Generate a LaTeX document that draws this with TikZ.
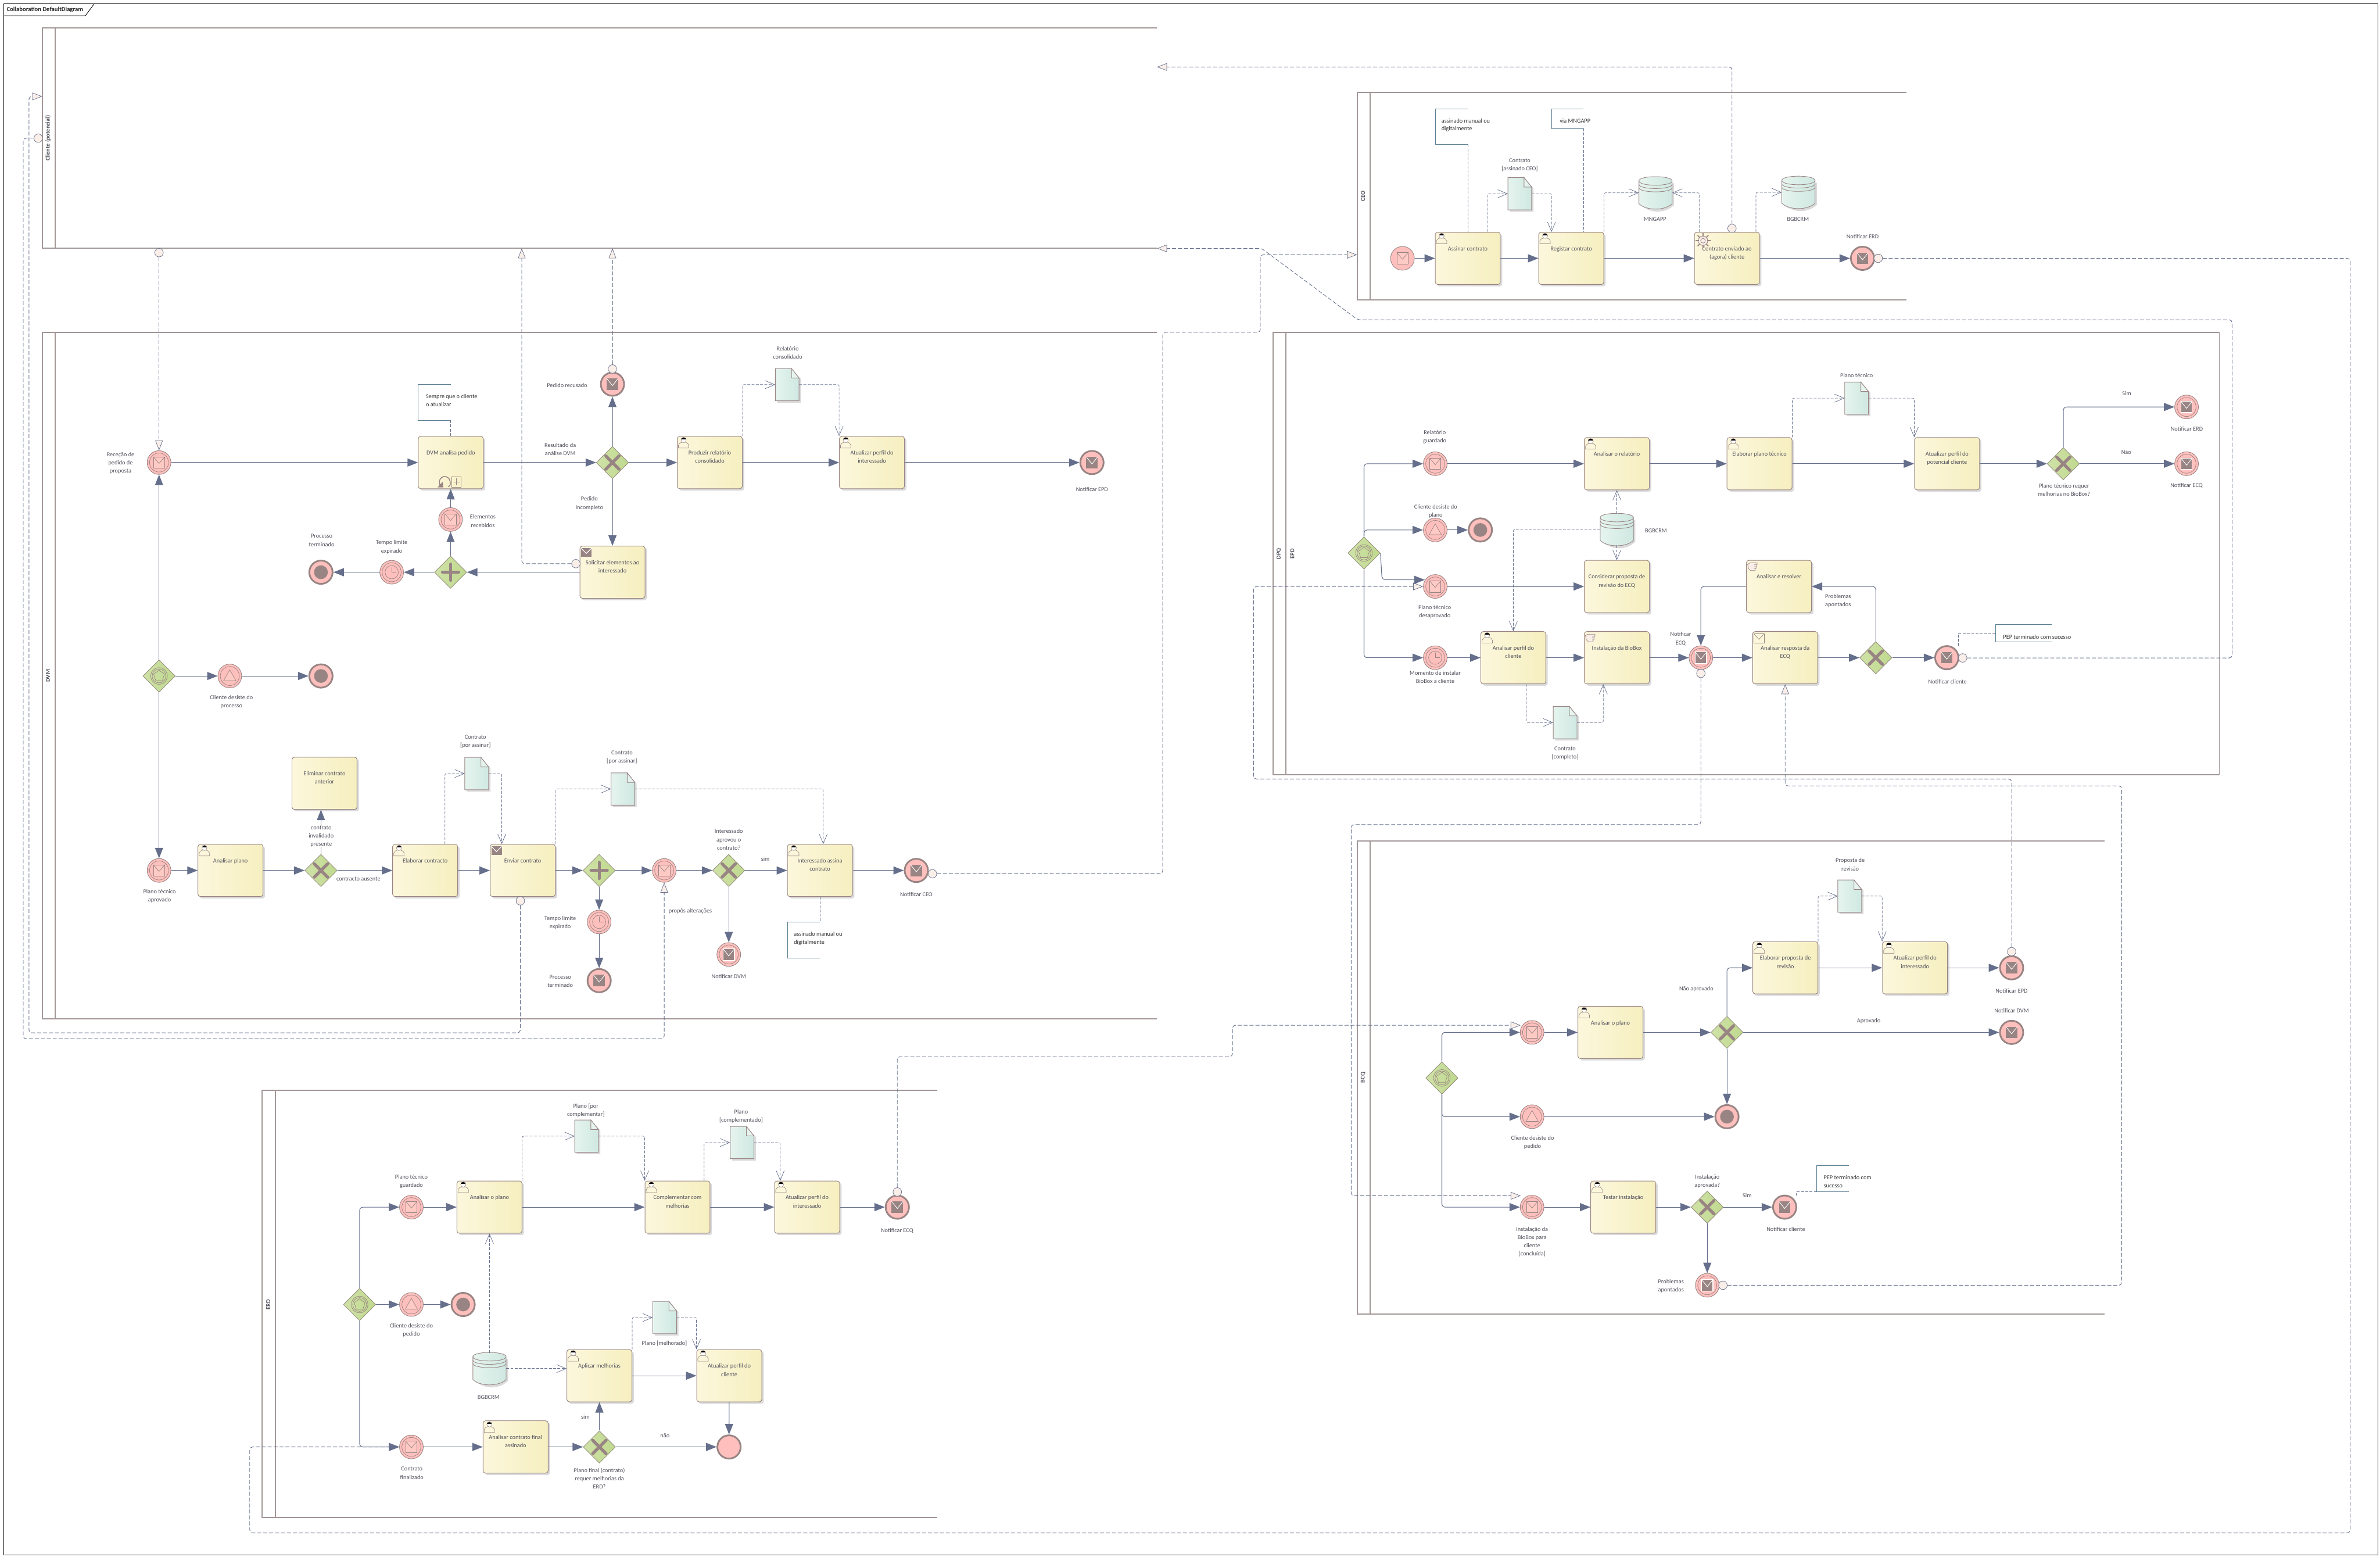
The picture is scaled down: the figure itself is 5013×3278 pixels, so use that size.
\documentclass[tikz,border=0pt]{standalone}
\usepackage{fontspec}
\setmainfont{Carlito}
\usetikzlibrary{arrows.meta,shapes.geometric,shadows}
\definecolor{flow}{HTML}{656F8C}
\definecolor{poolc}{HTML}{A29696}
\definecolor{txtc}{HTML}{50505C}
\definecolor{brn}{HTML}{998484}
\definecolor{evf}{HTML}{FFC0BD}
\definecolor{evin}{HTML}{FFCAC4}
\definecolor{tka}{HTML}{FCF7DC}
\definecolor{tkb}{HTML}{F6EFC0}
\definecolor{dca}{HTML}{E6F4EF}
\definecolor{dcb}{HTML}{CFE8E1}
\definecolor{gwa}{HTML}{D0E2A8}
\definecolor{gwb}{HTML}{BFD98E}
\definecolor{gwl}{HTML}{958F7C}
\definecolor{shd}{HTML}{DADADA}
\definecolor{msgf}{HTML}{FAEEE8}
\definecolor{notec}{HTML}{5A7F92}
\newcommand\txtfont{\fontsize{12.6}{17.5}\selectfont}
\tikzset{
 poolln/.style={draw=poolc,line width=2.4pt},
 lbltxt/.style={font=\txtfont,text=txtc,align=center,inner sep=0pt},
 notetxt/.style={font=\txtfont,text=black!80,align=left,inner sep=0pt,anchor=west},
 pooltxt/.style={font=\txtfont\bfseries,text=txtc,rotate=90,inner sep=0pt},
 tkbox/.style={rectangle,rounded corners=5pt,draw=brn,line width=1.2pt,minimum width=137pt,minimum height=110pt,inner sep=0pt,
   left color=tka,middle color=tka,right color=tkb,font=\txtfont,text=txtc,general shadow={fill=shd,shadow xshift=4pt,shadow yshift=-4pt}},
 evstart/.style={circle,minimum size=50pt,inner sep=0pt,fill=evf,draw=brn,line width=1.1pt},
 evinter/.style={circle,minimum size=50pt,inner sep=0pt,fill=evf,draw=brn,line width=1.1pt},
 evend/.style={circle,minimum size=49pt,inner sep=0pt,fill=evf,draw=brn,line width=3.6pt},
 gwbox/.style={diamond,aspect=1,minimum size=68pt,inner sep=0pt,left color=gwa,right color=gwb,draw=gwl,line width=1.1pt},
 seq/.style={draw=flow,line width=1.3pt,rounded corners=7pt,-{Triangle[length=22pt,width=17pt,fill=flow]}},
 msg/.style={draw=flow,line width=1.1pt,rounded corners=6pt,dash pattern=on 8.5pt off 4pt,-{Triangle[length=21pt,width=16pt,fill=msgf,line width=.9pt]}},
 data/.style={draw=flow,line width=.9pt,rounded corners=3pt,dash pattern=on 6pt off 3pt,-{Straight Barb[length=20pt,width=17pt,line width=.9pt]}},
 assoc/.style={draw=flow,line width=.9pt,dash pattern=on 6pt off 3pt},
 notel/.style={draw=notec,line width=1.1pt},
 msgc/.style={circle,minimum size=18pt,inner sep=0pt,fill=msgf,draw=flow,line width=.9pt},
 anch/.style={rectangle,inner sep=0pt,draw=none},
 noicon/.pic={},
 ring/.pic={\draw[brn,line width=.9pt] (0,0) circle (20);},
 envO/.pic={\draw[brn,line width=.9pt,fill=evin] (-12,-12) rectangle (12,12); \draw[brn,line width=.9pt] (-12,-12) -- (0,2) -- (12,-12);},
 envF/.pic={\fill[brn] (-12,-12) rectangle (12,12); \draw[white,line width=1.1pt] (-12,-12) -- (0,3) -- (12,-12);},
 envT/.pic={\draw[white,line width=1.4pt,fill=brn] (-12,-12) rectangle (12,12); \draw[white,line width=1.1pt] (-12,-12) -- (0,3) -- (12,-12);},
 trig/.pic={\draw[brn,line width=.9pt,fill=evin] (0,-13) -- (13,10) -- (-13,10) -- cycle;},
 timer/.pic={\draw[brn,line width=.9pt] (0,0) circle (14); \draw[brn,line width=.9pt] (0,-11) -- (0,0) -- (10,0);},
 blob/.pic={\fill[brn] (0,0) circle (14.5);},
 gwx/.pic={\draw[brn,line width=6.5pt,line cap=round] (-14,-14) -- (14,14) (-14,14) -- (14,-14);},
 gwp/.pic={\draw[brn,line width=6.5pt,line cap=round] (-17,0) -- (17,0) (0,-17) -- (0,17);},
 gwe/.pic={\draw[brn,line width=.9pt] (0,0) circle (17.5) (0,0) circle (14.5);
   \draw[brn,line width=.9pt] (0,-12) -- (11.4,-3.7) -- (7,9.7) -- (-7,9.7) -- (-11.4,-3.7) -- cycle;},
 user/.pic={\draw[brn,line width=.8pt,fill=tka] (-11,11) -- (-11,5) .. controls (-10,1) and (-7,0) .. (-4,-1) -- (4,-1) .. controls (7,0) and (10,1) .. (11,5) -- (11,11) -- cycle;
   \draw[brn,line width=.7pt,fill=white] (0,-6) circle (5.5); \fill[black] (-5,-7) .. controls (-5,-12) and (5,-12) .. (5,-7) -- cycle;},
 mailt/.pic={\fill[brn] (-11,-9) rectangle (11,9); \draw[white,line width=1.3pt] (-11,-9) -- (0,2) -- (11,-9);},
 mailo/.pic={\draw[brn,line width=.9pt] (-11,-9) rectangle (11,11); \draw[brn,line width=.9pt] (-11,-9) -- (0,3) -- (11,-9);},
 hand/.pic={\draw[brn,line width=.9pt,fill=msgf] (-11,-5) -- (-6,-8) -- (9,-8) -- (9,-4) -- (3,-4) -- (8,-4) -- (8,0) -- (3,0) -- (7,0) -- (7,4) -- (3,4) -- (5,4) -- (5,8) -- (-5,8) -- (-9,4) -- cycle;},
 gear/.pic={\draw[brn,line width=1pt,fill=msgf] (0,0) circle (10); \draw[brn,line width=1pt] (0,0) circle (5);
   \foreach \a in {0,45,...,315}{\draw[brn,line width=2.2pt] (\a:9) -- (\a:16);}},
 subm/.pic={\draw[brn,line width=1pt] (2,-11) rectangle (22,11) (12,-7) -- (12,7) (6,0) -- (18,0);
   \draw[brn,line width=1.8pt] (-22,9) .. controls (-32,-14) and (0,-20) .. (-1,5) .. controls (-2,9) .. (-6,10);
   \fill[brn] (-28,12) -- (-16,12) -- (-17,0) -- cycle;},
}
\newcounter{lbc}
\newcommand\lbl[3]{\stepcounter{lbc}\node[lbltxt] (lb\arabic{lbc}) at (#1,#2) {#3};}
\newcommand\ntx[3]{\stepcounter{lbc}\node[notetxt] (lb\arabic{lbc}) at (#1,#2) {#3};}
\newcommand\tk[5]{\node[tkbox] (#1) at (#2,#3) {\parbox[c][104pt][t]{135pt}{\centering\vspace*{27pt}#5}};
  \path (#1.north west) ++(14,14) pic {#4};}
\newcommand\evt[5]{\node[#4] (#1) at (#2,#3) {}; \pic at (#1) {#5};}
\newcommand\evi[4]{\node[evinter] (#1) at (#2,#3) {}; \pic at (#1) {ring}; \pic at (#1) {#4};}
\newcommand\gw[4]{\node[gwbox] (#1) at (#2,#3) {}; \pic at (#1) {#4};}
\newcommand\dc[3]{\node[anch,minimum width=50pt,minimum height=68pt] (#1) at (#2,#3) {};
  \begin{scope}[shift={(#2,#3)}]
  \fill[shd] (-21,-30) -- (11,-30) -- (29,-12) -- (29,38) -- (-21,38) -- cycle;
  \draw[brn,line width=1.1pt,left color=dca,right color=dcb] (-25,-34) -- (9,-34) -- (25,-14) -- (25,34) -- (-25,34) -- cycle;
  \draw[brn,line width=1.1pt,fill=dca] (9,-34) -- (9,-14) -- (25,-14) -- cycle;
  \end{scope}}
\newcommand\stor[3]{\node[anch,minimum width=70pt,minimum height=66pt] (#1) at (#2,#3) {};
  \begin{scope}[shift={(#2,#3)}]
  \fill[shd] (-31,-20) -- (39,-20) -- (39,26) .. controls (20,44) and (-10,44) .. (-31,26) -- cycle;
  \draw[brn,line width=1.1pt,left color=dca,right color=dcb] (-35,-25) .. controls (-35,-37) and (35,-37) .. (35,-25) -- (35,23) .. controls (20,38) and (-20,38) .. (-35,23) -- cycle;
  \draw[brn,line width=1.1pt] (-35,-25) .. controls (-35,-13) and (35,-13) .. (35,-25);
  \draw[brn,line width=1.1pt] (-35,-18) .. controls (-35,-6) and (35,-6) .. (35,-18);
  \draw[brn,line width=1.1pt] (-35,-11) .. controls (-35,1) and (35,1) .. (35,-11);
  \end{scope}}
\newcommand\pool[5]{\draw[poolln] (#5,#3) -- (#1,#3) -- (#1,#4) -- (#5,#4); \draw[poolln] (#2,#3) -- (#2,#4);}
\newcommand\notebr[5]{\coordinate (#1) at (#3,#5); \draw[notel] (#3,#4) -- (#2,#4) -- (#2,#5) -- (#3,#5);}
\begin{document}
\begin{tikzpicture}[x=1pt,y=-1pt]
\useasboundingbox (0,0) rectangle (5013,3278);
\fill[white] (0,0) rectangle (5013,3278);
% frame
\draw[black,line width=1.3pt] (8,8.5) rectangle (5009,3274);
\draw[black,line width=1.1pt] (8,33) -- (180,33) -- (198,8.5);
\stepcounter{lbc}\node[font=\fontsize{13}{15}\selectfont\bfseries,text=black!85,anchor=west,inner sep=0pt] (title) at (14,20) {Collaboration DefaultDiagram};
% pools
\pool{89}{116}{59}{523}{2437}
\pool{89}{116}{700}{2146}{2437}
\pool{2858.5}{2886}{195}{632}{4016}
\pool{2681}{2708.5}{700}{1631}{4675}
\draw[draw=poolc,line width=1.2pt] (4675,700) -- (4675,1631);
\pool{2858.5}{2886}{1771}{2767}{4433}
\pool{552.5}{580}{2296.5}{3196}{1974}
\node[pooltxt] (pCli) at (101,291) {Cliente (potencial)};
\node[pooltxt] (pDvm) at (101,1423) {DVM};
\node[pooltxt] (pCeo) at (2871,413) {CEO};
\node[pooltxt] (pDpq) at (2694,1166) {DPQ};
\node[pooltxt] (pEpd) at (2722,1166) {EPD};
\node[pooltxt] (pBcq) at (2871,2269) {BCQ};
\node[pooltxt] (pErd) at (565,2747) {ERD};
% --- DVM
\evi{eRec}{335}{974}{envO}
\tk{tDvm}{949.5}{974}{noicon}{DVM analisa  pedido}
\pic at (949.5,1014.5) {subm};
\gw{gX1}{1290}{974}{gwx}
\evt{eRecus}{1290}{809}{evend}{envF}
\tk{tProd}{1495}{974}{user}{Produzir relatório\\consolidado}
\tk{tAtI}{1836.5}{974}{user}{Atualizar perfil do\\interessado}
\evt{eNEpd}{2300}{974}{evend}{envF}
\tk{tSol}{1290}{1205}{mailt}{Solicitar elementos ao\\interessado}
\gw{gP1}{949}{1205}{gwp}
\evi{eElem}{949}{1094}{envO}
\evi{eTim1}{825}{1205}{timer}
\evt{eTerm1}{676}{1205}{evend}{blob}
\gw{gE0}{335}{1423.5}{gwe}
\evi{eDes}{484}{1423.5}{trig}
\evt{eEnd1}{676}{1423.5}{evend}{blob}
\evi{ePlan}{335}{1833}{envO}
\tk{tAnP}{485.5}{1833}{user}{Analisar plano}
\gw{gX2}{676}{1833}{gwx}
\tk{tElim}{683.5}{1649.5}{noicon}{Eliminar contrato\\anterior}
\tk{tElab}{895.5}{1833}{user}{Elaborar contracto}
\tk{tEnv}{1101}{1833}{mailt}{Enviar contrato}
\gw{gP2}{1262}{1833}{gwp}
\evi{eTim2}{1262}{1941.5}{timer}
\evt{eProc}{1262}{2065}{evend}{envF}
\evi{eAlt}{1399}{1833}{envO}
\gw{gX3}{1535}{1833}{gwx}
\tk{tInt}{1727}{1833}{user}{Interessado assina\\contrato}
\evt{eNCeo}{1930}{1833}{evend}{envF}
\evi{eNDvm}{1535}{2010}{envT}
\dc{dRel}{1658}{810}
\dc{dC1}{1004}{1629}
\dc{dC2}{1312}{1661.5}
\notebr{nA}{881}{949.5}{810}{885}
\ntx{897}{835}{Sempre que o cliente}
\ntx{897}{852}{o atualizar}
\notebr{nB}{1659}{1727}{1942}{2017}
\coordinate (nBtop) at (1727,1942);
\ntx{1672}{1967}{assinado manual ou}
\ntx{1672}{1985}{digitalmente}
% --- CEO
\evt{eSt}{2954}{544}{evstart}{envO}
\tk{tAss}{3091.5}{544}{user}{Assinar contrato}
\tk{tReg}{3309.5}{544}{user}{Registar contrato}
\tk{tCEnv}{3637.5}{544}{noicon}{Contrato enviado ao\\(agora) cliente}
\pic at (3587,507) {gear};
\evt{eNErd}{3923}{544}{evend}{envF}
\dc{dCeo}{3201}{408}
\stor{sMng}{3487}{406}
\stor{sBg1}{3788}{405}
\notebr{nC}{3023.5}{3091.5}{229}{304}
\ntx{3036}{255}{assinado manual ou}
\ntx{3036}{272}{digitalmente}
\notebr{nD}{3268}{3335}{229}{270.5}
\ntx{3285}{255}{via MNGAPP}
% --- DPQ
\gw{gE1}{2873}{1164.5}{gwe}
\evi{eRelG}{3023}{976.5}{envO}
\evi{eDes2}{3023}{1116}{trig}
\evt{eEnd2}{3118}{1116}{evend}{blob}
\evi{eDesap}{3023}{1235}{envO}
\evi{eMom}{3023}{1385}{timer}
\tk{tAnR}{3405.5}{976.5}{user}{Analisar o relatório}
\tk{tElP}{3706}{976.5}{user}{Elaborar plano técnico}
\tk{tAtP}{4101}{976.5}{noicon}{Atualizar perfil do\\potencial cliente}
\gw{gX4}{4346}{976.5}{gwx}
\evi{eNE2}{4605.5}{857}{envT}
\evi{eNC2}{4605.5}{976.5}{envT}
\tk{tCons}{3405.5}{1235}{noicon}{Considerar proposta de\\revisão do ECQ}
\tk{tRes}{3747}{1235}{hand}{Analisar e resolver}
\tk{tAnC}{3187.5}{1385}{user}{Analisar perfil do\\cliente}
\tk{tInst}{3405.5}{1385}{hand}{Instalação da BioBox}
\evi{eNEcq}{3582.5}{1385}{envT}
\tk{tARes}{3760}{1385}{mailo}{Analisar resposta da\\ECQ}
\gw{gX5}{3951}{1385}{gwx}
\evt{eNCli}{4100.5}{1385}{evend}{envF}
\dc{dPla}{3910.5}{838.5}
\dc{dCom}{3296.5}{1521.5}
\stor{sBg2}{3405.5}{1115}
\notebr{nE}{4203}{4321}{1315.5}{1352}
\ntx{4219}{1341}{PEP terminado com sucesso}
% --- BCQ
\gw{gE2}{3037}{2270}{gwe}
\evi{eBa}{3227}{2174}{envO}
\evi{eBc}{3227}{2351.5}{trig}
\evi{eBi}{3227}{2542}{envO}
\tk{tAnO}{3392}{2174}{user}{Analisar o plano}
\gw{gX6}{3637.5}{2174}{gwx}
\tk{tElR}{3760.5}{2038}{user}{Elaborar proposta de\\revisão}
\tk{tAI2}{4033.5}{2038}{user}{Atualizar perfil do\\interessado}
\evt{eNEp}{4237}{2038}{evend}{envF}
\evt{eNDv}{4237}{2174}{evend}{envF}
\evt{eEnd3}{3637.5}{2351.5}{evend}{blob}
\tk{tTest}{3419}{2542}{user}{Testar instalação}
\gw{gX7}{3596}{2542}{gwx}
\evt{eNCl}{3759}{2542}{evend}{envF}
\evi{eProb}{3596}{2706.5}{envT}
\dc{dPro}{3896}{1887}
\notebr{nF}{3826}{3894}{2454.5}{2509.5}
\ntx{3841}{2479}{PEP terminado com}
\ntx{3841}{2497.5}{sucesso}
% --- ERD
\gw{gE3}{757.5}{2747}{gwe}
\evi{eGu}{866.5}{2542}{envO}
\tk{tAp}{1031}{2542}{user}{Analisar o plano}
\tk{tComp}{1427}{2542}{user}{Complementar  com\\melhorias}
\tk{tAI3}{1700}{2542}{user}{Atualizar perfil do\\interessado}
\evt{eNEc}{1890}{2542}{evend}{envF}
\evi{eDs}{866.5}{2747}{trig}
\evt{eEnd4}{975.5}{2747}{evend}{blob}
\stor{sBg3}{1031}{2882}
\tk{tApl}{1262.5}{2897}{user}{Aplicar melhorias}
\tk{tAtC}{1536}{2897}{user}{Atualizar perfil do\\cliente}
\evi{eFin}{866.5}{3047}{envO}
\tk{tAnF}{1086}{3047}{user}{Analisar contrato final\\assinado}
\gw{gX8}{1262.5}{3047}{gwx}
\evt{eEnd5}{1535.5}{3047}{evend}{noicon}
\dc{dP1}{1235.5}{2392.5}
\dc{dP2}{1563}{2406}
\dc{dP3}{1400}{2774.5}
% labels
\lbl{254}{975}{Receção de\\pedido de\\proposta}
\lbl{1194.5}{811}{Pedido recusado}
\lbl{1180}{946}{Resultado da\\análise DVM}
\lbl{1241.5}{1060}{Pedido\\incompleto}
\lbl{1017}{1097}{Elementos\\recebidos}
\lbl{1659}{742.5}{Relatório\\consolidado}
\lbl{2300}{1030}{Notificar EPD}
\lbl{677.5}{1138}{Processo\\terminado}
\lbl{825}{1152}{Tempo limite\\expirado}
\lbl{487.5}{1478}{Cliente desiste do\\processo}
\lbl{336}{1887}{Plano técnico\\aprovado}
\lbl{755}{1851}{contracto ausente}
\lbl{1001.5}{1561.5}{Contrato\\{}[por assinar]}
\lbl{1310}{1594.5}{Contrato\\{}[por assinar]}
\lbl{1180}{1943}{Tempo limite\\expirado}
\lbl{1180}{2066}{Processo\\terminado}
\lbl{1535}{1768}{Interessado\\aprovou o\\contrato?}
\lbl{1612}{1809}{sim}
\lbl{1454}{1919}{propôs alterações}
\lbl{1535}{2056}{Notificar DVM}
\lbl{1930}{1883}{Notificar CEO}
\lbl{3201}{347}{Contrato\\{}[assinado CEO]}
\lbl{3486}{462}{MNGAPP}
\lbl{3787}{462}{BGBCRM}
\lbl{3923}{498}{Notificar ERD}
\lbl{3022}{920}{Relatório\\guardado}
\lbl{3024}{1077}{Cliente desiste do\\plano}
\lbl{3022}{1288}{Plano técnico\\desaprovado}
\lbl{3023}{1426}{Momento de instalar\\BioBox a cliente}
\lbl{3488}{1118}{BGBCRM}
\lbl{3540}{1345}{Notificar\\ECQ}
\lbl{3296.5}{1586}{Contrato\\{}[completo]}
\lbl{3910.5}{791}{Plano técnico}
\lbl{4479.5}{829}{Sim}
\lbl{4478.5}{952}{Não}
\lbl{4606}{903}{Notificar ERD}
\lbl{4605.5}{1023}{Notificar ECQ}
\lbl{4347.5}{1032}{Plano técnico requer\\melhorias no BioBox?}
\lbl{3871.5}{1265}{Problemas\\apontados}
\lbl{4102}{1436}{Notificar cliente}
\lbl{3897}{1820.5}{Proposta de\\revisão}
\lbl{3573}{2083}{Não aprovado}
\lbl{4237}{2087}{Notificar EPD}
\lbl{4237}{2128}{Notificar DVM}
\lbl{3936}{2150}{Aprovado}
\lbl{3228}{2406}{Cliente desiste do\\pedido}
\lbl{3227}{2615}{Instalação da\\BioBox para\\cliente\\{}[concluída]}
\lbl{3596}{2488}{Instalação\\aprovada?}
\lbl{3680}{2518}{Sim}
\lbl{3761.5}{2588}{Notificar cliente}
\lbl{3519.5}{2708}{Problemas\\apontados}
\lbl{866.5}{2488}{Plano técnico\\guardado}
\lbl{1889.5}{2592}{Notificar ECQ}
\lbl{1234}{2338}{Plano [por\\complementar]}
\lbl{1561}{2351}{Plano\\{}[complementado]}
\lbl{866.5}{2801.5}{Cliente desiste do\\pedido}
\lbl{1029}{2943}{BGBCRM}
\lbl{1399.5}{2829.5}{Plano [melhorado]}
\lbl{867.5}{3102}{Contrato\\finalizado}
\lbl{1262.5}{3113}{Plano final (contrato)\\requer melhorias da\\ERD?}
\lbl{1233}{2984}{sim}
\lbl{1400.5}{3023}{não}
% message flows
\node[msgc] (mCli) at (335,532) {};
\node[msgc] (mSol) at (1213,1187) {};
\node[msgc] (mRec) at (1290,777) {};
\node[msgc] (mEnv) at (1096,1897) {};
\node[msgc] (mLeft) at (80.5,291) {};
\node[msgc] (mCeo) at (1964,1840) {};
\node[msgc] (mNCli) at (4134,1385.5) {};
\node[msgc] (mCE) at (3648,481) {};
\node[msgc] (mErd) at (3956,544) {};
\node[msgc] (mEcq) at (3582.5,1418) {};
\node[msgc] (mEc3) at (1890,2510) {};
\node[msgc] (mEpd) at (4237,2004) {};
\node[msgc] (mPrb) at (3629,2706.5) {};
\coordinate (pA) at (1099,523);
\coordinate (pB) at (1290,523);
\coordinate (pC) at (89,203);
\coordinate (pD) at (2858,536.5);
\coordinate (pE) at (2437,523);
\coordinate (pF) at (2437,141);
\coordinate (pG) at (3203,2518);
\coordinate (pH) at (3203,2159);
\draw[msg] (mCli) -- (eRec);
\draw[msg] (mSol.west) -| (pA);
\draw[msg] (mRec) -- (pB);
\draw[msg] (mEnv.south) -- (1096,2175) -- (61,2175) -- (61,203) -- (pC);
\draw[msg] (mLeft.west) -- (49,291) -- (49,2187.5) -- (1399,2187.5) -- (eAlt.south);
\draw[msg] (mCeo.east) -- (2449,1840) -- (2449,700) -- (2654.5,700) -- (2654.5,536.5) -- (pD);
\draw[msg] (mNCli.east) -- (4701.5,1385.5) -- (4701.5,673.5) -- (2860,673.5) -- (2657,523) -- (pE);
\draw[msg] (mCE.north) -- (3648,141) -- (pF);
\draw[msg] (mErd.east) -- (4950,544) -- (4950,3228) -- (526,3228) -- (526,3047) -- (eFin.west);
\draw[msg] (mEcq.south) -- (3582.5,1736.5) -- (2846,1736.5) -- (2846,2518) -- (pG);
\draw[msg] (mEc3.north) -- (1890,2225) -- (2596,2225) -- (2596,2159) -- (pH);
\draw[msg] (mEpd.north) -- (4237,1640.5) -- (2640.5,1640.5) -- (2640.5,1235) -- (eDesap.west);
\draw[msg] (mPrb.east) -- (4469,2706.5) -- (4469,1655) -- (3760,1655) -- (tARes.south);
% sequence flows DVM
\draw[seq] (gE0) -- (eRec);
\draw[seq] (gE0) -- (eDes);
\draw[seq] (eDes) -- (eEnd1);
\draw[seq] (gE0) -- (ePlan);
\draw[seq] (eRec) -- (tDvm);
\draw[seq] (tDvm) -- (gX1);
\draw[seq] (gX1) -- (tProd);
\draw[seq] (gX1) -- (eRecus);
\draw[seq] (gX1) -- (tSol);
\draw[seq] (tProd) -- (tAtI);
\draw[seq] (tAtI) -- (eNEpd);
\draw[seq] (tSol) -- (gP1);
\draw[seq] (gP1) -- (eElem);
\draw[seq] (eElem) -- (tDvm);
\draw[seq] (gP1) -- (eTim1);
\draw[seq] (eTim1) -- (eTerm1);
\draw[seq] (ePlan) -- (tAnP);
\draw[seq] (tAnP) -- (gX2);
\draw[seq] (gX2) -- (tElab);
\draw[seq] (gX2) -- (gX2 |- tElim.south);
\draw[seq] (tElab) -- (tEnv);
\draw[seq] (tEnv) -- (gP2);
\draw[seq] (gP2) -- (eAlt);
\draw[seq] (gP2) -- (eTim2);
\draw[seq] (eTim2) -- (eProc);
\draw[seq] (eAlt) -- (gX3);
\draw[seq] (gX3) -- (tInt);
\draw[seq] (gX3) -- (eNDvm);
\draw[seq] (tInt) -- (eNCeo);
\node[lbltxt,fill=white] (lbInv) at (676.5,1761) {contrato\\invalidado\\presente};
% CEO
\draw[seq] (eSt) -- (tAss);
\draw[seq] (tAss) -- (tReg);
\draw[seq] (tReg) -- (tCEnv);
\draw[seq] (tCEnv) -- (eNErd);
% DPQ
\coordinate (cDesap) at (3001,1221);
\draw[seq] (gE1.north) |- (eRelG.west);
\draw[seq] (gE1.north) |- (eDes2.west);
\draw[seq] (gE1.east) -- (2911,1221) -- (cDesap);
\draw[seq] (gE1.south) |- (eMom.west);
\draw[seq] (eDes2) -- (eEnd2);
\draw[seq] (eRelG) -- (tAnR);
\draw[seq] (tAnR) -- (tElP);
\draw[seq] (tElP) -- (tAtP);
\draw[seq] (tAtP) -- (gX4);
\draw[seq] (gX4.north) |- (eNE2.west);
\draw[seq] (gX4) -- (eNC2);
\draw[seq] (eDesap) -- (tCons);
\draw[seq] (eMom) -- (tAnC);
\draw[seq] (tAnC) -- (tInst);
\draw[seq] (tInst) -- (eNEcq);
\draw[seq] (eNEcq) -- (tARes);
\draw[seq] (tARes) -- (gX5);
\draw[seq] (gX5) -- (eNCli);
\draw[seq] (gX5.north) |- (tRes.east);
\draw[seq] (tRes.west) -| (eNEcq.north);
% BCQ
\draw[seq] (gE2.north) |- (eBa.west);
\draw[seq] (gE2.south) |- (eBc.west);
\draw[seq] (gE2.south) |- (eBi.west);
\draw[seq] (eBa) -- (tAnO);
\draw[seq] (tAnO) -- (gX6);
\draw[seq] (gX6.north) |- (tElR.west);
\draw[seq] (tElR) -- (tAI2);
\draw[seq] (tAI2) -- (eNEp);
\draw[seq] (gX6) -- (eNDv);
\draw[seq] (gX6) -- (eEnd3);
\draw[seq] (eBc) -- (eEnd3);
\draw[seq] (eBi) -- (tTest);
\draw[seq] (tTest) -- (gX7);
\draw[seq] (gX7) -- (eNCl);
\draw[seq] (gX7) -- (eProb);
% ERD
\draw[seq] (gE3.north) |- (eGu.west);
\draw[seq] (gE3) -- (eDs);
\draw[seq] (eDs) -- (eEnd4);
\draw[seq] (gE3.south) |- (eFin.west);
\draw[seq] (eGu) -- (tAp);
\draw[seq] (tAp) -- (tComp);
\draw[seq] (tComp) -- (tAI3);
\draw[seq] (tAI3) -- (eNEc);
\draw[seq] (eFin) -- (tAnF);
\draw[seq] (tAnF) -- (gX8);
\draw[seq] (gX8) -- (tApl);
\draw[seq] (gX8) -- (eEnd5);
\draw[seq] (tApl) -- (tAtC);
\draw[seq] (tAtC) -- (eEnd5);
% data flows
\draw[data] (tProd.north east) |- (dRel.west);
\draw[data] (dRel.east) -| (tAtI.north west);
\draw[data] ([xshift=-27.5pt]tElab.north east) |- (dC1.west);
\draw[data] (dC1.east) -| ([xshift=25pt]tEnv.north west);
\draw[data] (tEnv.north east) |- (dC2.west);
\draw[data] (dC2.east) -| ([xshift=7pt]tInt.north);
\draw[data] ([xshift=-27.5pt]tAss.north east) |- (dCeo.west);
\draw[data] (dCeo.east) -| ([xshift=27.5pt]tReg.north west);
\draw[data] (tReg.north east) |- (sMng.west);
\draw[data] ([xshift=11pt]tCEnv.north west) |- (sMng.east);
\draw[data] ([xshift=-8pt]tCEnv.north east) |- (sBg1.west);
\draw[data] (tElP.north east) |- (dPla.west);
\draw[data] (dPla.east) -| (tAtP.north west);
\draw[data] (sBg2.north) -- (tAnR.south);
\draw[data] (sBg2.south) -- (tCons.north);
\draw[data] (sBg2.west) -| (tAnC.north);
\draw[data] ([xshift=27.5pt]tAnC.south) |- (dCom.west);
\draw[data] (dCom.east) -| ([xshift=-28.5pt]tInst.south);
\draw[data] (tElR.north east) |- (dPro.west);
\draw[data] (dPro.east) -| (tAI2.north west);
\draw[data] (tAp.north east) |- (dP1.west);
\draw[data] (dP1.east) -| (tComp.north west);
\draw[data] ([xshift=-13pt]tComp.north east) |- (dP2.west);
\draw[data] (dP2.east) -| ([xshift=12.5pt]tAI3.north west);
\draw[data] (tApl.north east) |- (dP3.west);
\draw[data] (dP3.east) -| (tAtC.north west);
\draw[data] (sBg3.north) -- (tAp.south);
\draw[data] (sBg3.east) -- (tApl.west |- sBg3.east);
% associations
\draw[assoc] (nA) -- (tDvm.north);
\draw[assoc] (tInt.south) -- (nBtop);
\draw[assoc] (nC) -- (tAss.north);
\draw[assoc] (nD) -- (nD |- tReg.north);
\coordinate (cPepA) at (4125,1360);
\coordinate (cPepE) at (4203,1333);
\draw[assoc] (cPepA) |- (cPepE);
\coordinate (cPepB) at (3784,2518);
\coordinate (cPepF) at (3826,2509.5);
\draw[assoc] (cPepB) |- (cPepF);
\end{tikzpicture}
\end{document}
